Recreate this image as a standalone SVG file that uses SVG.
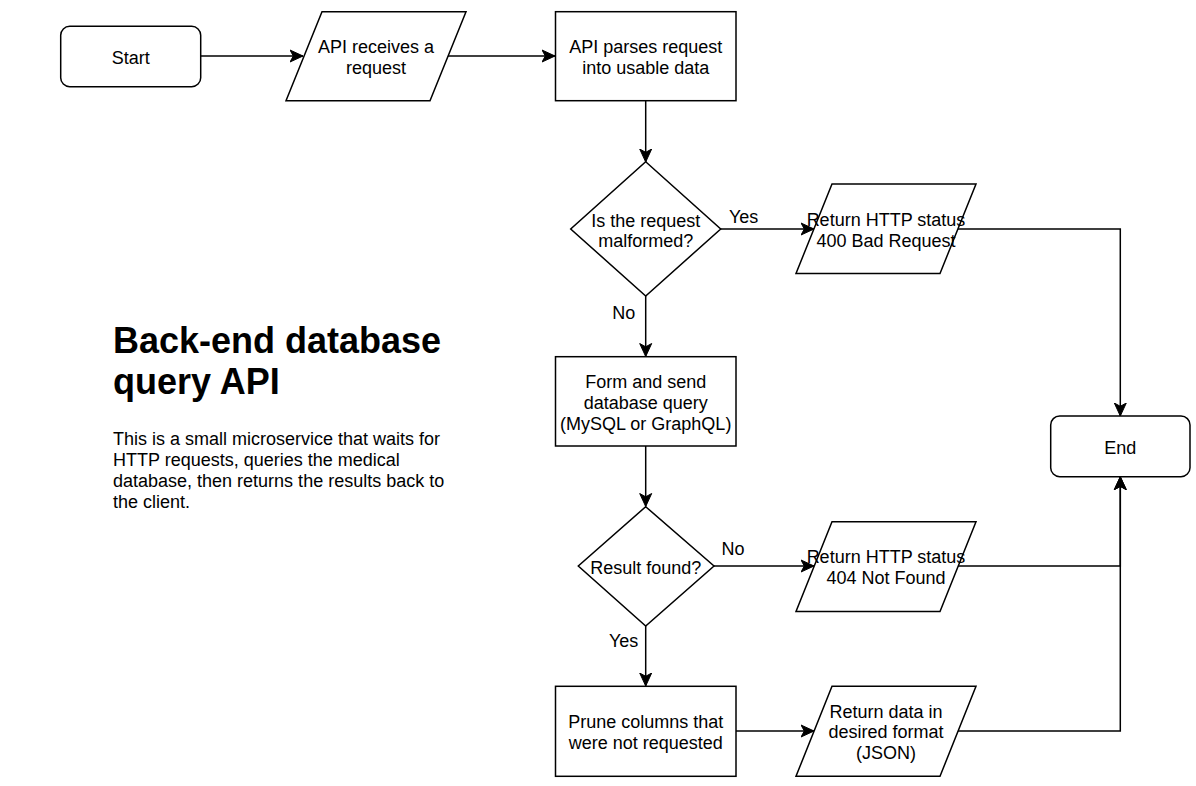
<svg xmlns="http://www.w3.org/2000/svg" width="1196" height="786" viewBox="0 0 1196 786">
<style>
.shape{fill:#ffffff;stroke:#000000;stroke-width:1.5}
.edge{fill:none;stroke:#000000;stroke-width:1.5}
text{font-family:"Liberation Sans",Arial,Helvetica,sans-serif;fill:#000000}
.lbl{font-size:18px;text-anchor:middle}
.title{font-size:36px;font-weight:bold}
.body{font-size:18px}
</style>
<defs>
<marker id="arr" markerUnits="userSpaceOnUse" markerWidth="16" markerHeight="16" viewBox="0 0 16 16" refX="13.5" refY="8" orient="auto">
<path d="M13.5,8 L0.5,2 L3.8,8 L0.5,14 Z" fill="#000000" stroke="#000000" stroke-width="1"/>
</marker>
</defs>
<rect width="1196" height="786" fill="#ffffff"/>
<g id="connectors">
<path class="edge" d="M200.5,56 L303,56" marker-end="url(#arr)"/>
<path class="edge" d="M448,56 L555,56" marker-end="url(#arr)"/>
<path class="edge" d="M645.7,101 L645.7,162" marker-end="url(#arr)"/>
<path class="edge" d="M720.7,229 L814,229" marker-end="url(#arr)"/>
<path class="edge" d="M645.7,296 L645.7,356.5" marker-end="url(#arr)"/>
<path class="edge" d="M645.7,446 L645.7,506.5" marker-end="url(#arr)"/>
<path class="edge" d="M714,566 L814,566" marker-end="url(#arr)"/>
<path class="edge" d="M645.7,626 L645.7,686" marker-end="url(#arr)"/>
<path class="edge" d="M736,731 L814,731" marker-end="url(#arr)"/>
<path class="edge" d="M958,229 L1120.3,229 L1120.3,416" marker-end="url(#arr)"/>
<path class="edge" d="M958,566 L1120.3,566 L1120.3,476.7" marker-end="url(#arr)"/>
<path class="edge" d="M958,731 L1120.3,731 L1120.3,476.7" marker-end="url(#arr)"/>
<text class="lbl" x="743.7" y="223.3">Yes</text>
<text class="lbl" x="623.7" y="319">No</text>
<text class="lbl" x="733" y="554.5">No</text>
<text class="lbl" x="623.7" y="646.5">Yes</text>
</g>
<g id="start">
<rect class="shape" x="60.7" y="26.3" width="140" height="60.4" rx="9" ry="9"/>
<text class="lbl" x="130.7" y="63.5">Start</text>
</g>
<g id="receive">
<polygon class="shape" points="322,11.7 466,11.7 430,100.7 286,100.7"/>
<text class="lbl" x="376" y="53.2">API receives a</text>
<text class="lbl" x="376" y="74">request</text>
</g>
<g id="parse">
<rect class="shape" x="555.5" y="11.7" width="180.5" height="89"/>
<text class="lbl" x="645.7" y="53.2">API parses request</text>
<text class="lbl" x="645.7" y="74">into usable data</text>
</g>
<g id="malformed">
<polygon class="shape" points="645.7,161.7 720.7,229 645.7,296 570.7,229"/>
<text class="lbl" x="645.7" y="226.5">Is the request</text>
<text class="lbl" x="645.7" y="247.3">malformed?</text>
</g>
<g id="bad-request">
<polygon class="shape" points="832,184 976,184 940,273.5 796,273.5"/>
<text class="lbl" x="886" y="226">Return HTTP status</text>
<text class="lbl" x="886" y="246.8">400 Bad Request</text>
</g>
<g id="end">
<rect class="shape" x="1050.7" y="416" width="139.3" height="60.7" rx="9" ry="9"/>
<text class="lbl" x="1120.3" y="454">End</text>
</g>
<g id="form-query">
<rect class="shape" x="555.5" y="356.7" width="180.5" height="89.3"/>
<text class="lbl" x="645.7" y="388">Form and send</text>
<text class="lbl" x="645.7" y="408.8">database query</text>
<text class="lbl" x="645.7" y="429.6">(MySQL or GraphQL)</text>
</g>
<g id="result-found">
<polygon class="shape" points="645.7,506.7 714,566 645.7,626 578.3,566"/>
<text class="lbl" x="645.7" y="573.5">Result found?</text>
</g>
<g id="not-found">
<polygon class="shape" points="832,521.7 976,521.7 940,611.5 796,611.5"/>
<text class="lbl" x="886" y="563">Return HTTP status</text>
<text class="lbl" x="886" y="583.8">404 Not Found</text>
</g>
<g id="prune">
<rect class="shape" x="555.5" y="686.3" width="180.5" height="90"/>
<text class="lbl" x="645.7" y="728">Prune columns that</text>
<text class="lbl" x="645.7" y="748.8">were not requested</text>
</g>
<g id="return-data">
<polygon class="shape" points="832,686.3 976,686.3 940,776.3 796,776.3"/>
<text class="lbl" x="886" y="717.5">Return data in</text>
<text class="lbl" x="886" y="738.3">desired format</text>
<text class="lbl" x="886" y="759.1">(JSON)</text>
</g>
<g id="description">
<text class="title" x="113" y="352.5">Back-end database</text>
<text class="title" x="113" y="393.5">query API</text>
<text class="body" x="113" y="445">This is a small microservice that waits for</text>
<text class="body" x="113" y="466">HTTP requests, queries the medical</text>
<text class="body" x="113" y="487">database, then returns the results back to</text>
<text class="body" x="113" y="508">the client.</text>
</g>
</svg>
